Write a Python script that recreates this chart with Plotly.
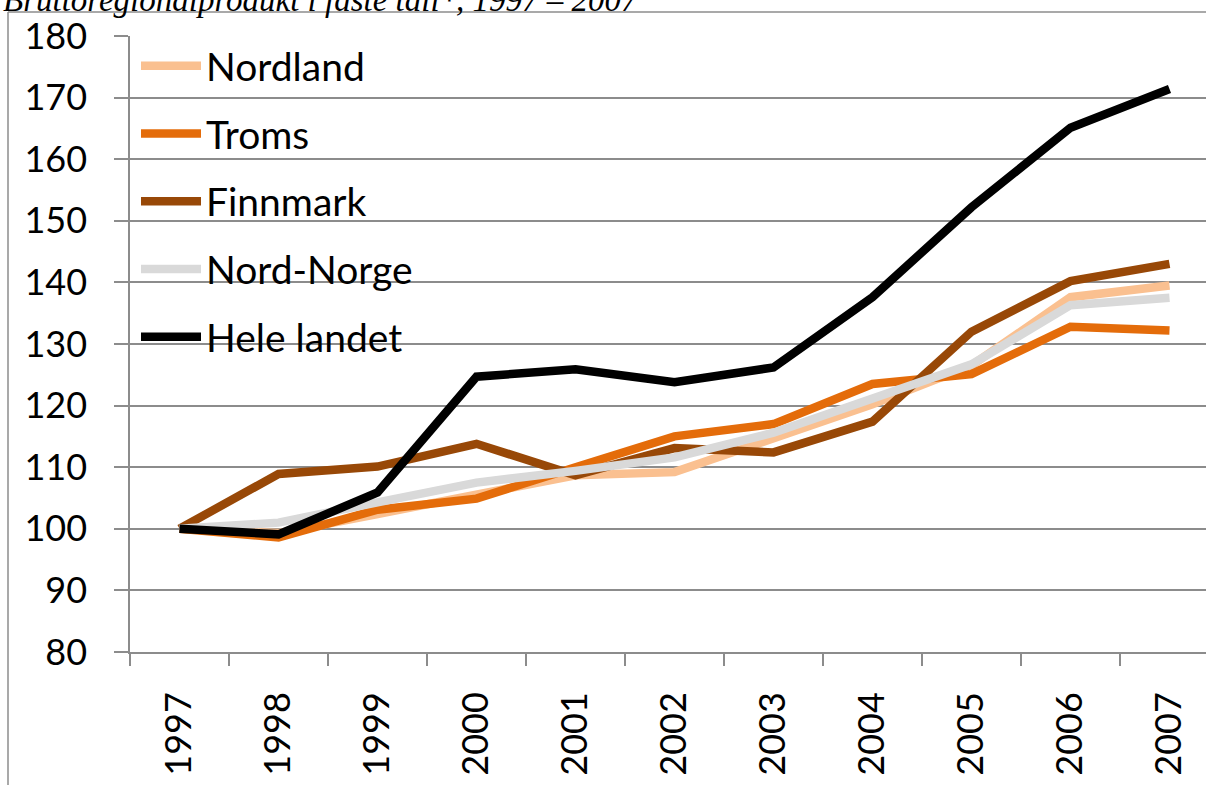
import plotly.graph_objects as go

years = ["1997", "1998", "1999", "2000", "2001", "2002", "2003", "2004", "2005", "2006", "2007"]
nordland = [100, 99.3, 102.4, 105.4, 108.7, 109.2, 114.7, 120.2, 126.5, 137.6, 139.5]
troms = [100, 98.6, 103.1, 104.9, 110.0, 115.0, 117.0, 123.5, 125.1, 132.8, 132.2]
finnmark = [100, 108.9, 110.1, 113.8, 108.7, 113.1, 112.4, 117.4, 132.0, 140.2, 143.0]
nord_norge = [100, 101.0, 104.3, 107.5, 109.4, 111.6, 115.6, 121.1, 126.7, 136.3, 137.5]
hele_landet = [100, 99.1, 105.9, 124.7, 125.9, 123.8, 126.2, 137.6, 152.2, 165.1, 171.4]

series_names = ["Nordland", "Troms", "Finnmark", "Nord-Norge", "Hele landet"]
series_values = [nordland, troms, finnmark, nord_norge, hele_landet]
colors = ["#FAC090", "#E46C0A", "#984807", "#D9D9D9", "#000000"]
yticks = [80, 90, 100, 110, 120, 130, 140, 150, 160, 170, 180]
title_text = "Bruttoregionalprodukt i faste tall*, 1997 – 2007"

W, H = 1206, 785
L, R, T, B = 130, 0, 36, 785 - 652
FONT = "Lato"

fig = go.Figure()
for name, vals, col in zip(series_names, series_values, colors):
    fig.add_trace(go.Scatter(
        x=years, y=vals, name=name, mode="lines",
        line=dict(color=col, width=8.5),
        legendgroup=name,
    ))

grid_col = "#8C8C8C"
pw = W - L - R
ph = H - T - B
def px_x(x):
    return (x - L) / pw
def px_y(y):
    return (H - B - y) / ph

fig.update_layout(
    width=W, height=H,
    margin=dict(l=L, r=R, t=T, b=B, pad=0),
    paper_bgcolor="white", plot_bgcolor="white",
    font=dict(family=FONT, color="black", size=36),
    showlegend=True,
    legend=dict(
        x=px_x(136), y=px_y(34),
        xanchor="left", yanchor="top",
        font=dict(family=FONT, size=39, color="black"),
        bgcolor="rgba(0,0,0,0)", itemwidth=60, tracegroupgap=14,
    ),
    xaxis=dict(
        type="category", range=[-0.5, -0.5 + pw / 99.0],
        tickson="boundaries", ticks="outside", ticklen=12, tickwidth=1.5, tickcolor=grid_col,
        showline=True, linecolor=grid_col, linewidth=1.5,
        showgrid=False, tickangle=-90, ticklabelstandoff=24,
        tickfont=dict(family=FONT, size=36, color="black"),
    ),
    yaxis=dict(
        range=[80, 180], tickvals=yticks, ticktext=[str(v) for v in yticks],
        ticks="outside", ticklen=14, tickwidth=1.5, tickcolor=grid_col,
        showline=True, linecolor=grid_col, linewidth=1.5,
        showgrid=True, gridcolor=grid_col, gridwidth=1.5, zeroline=False,
        ticklabelstandoff=20,
        tickfont=dict(family=FONT, size=36, color="black"),
    ),
)

# chart frame (left and top edges visible)
fig.add_shape(type="line", xref="paper", yref="paper",
              x0=px_x(8), x1=px_x(8), y0=px_y(12), y1=px_y(H + 5),
              line=dict(color=grid_col, width=1.5))
fig.add_shape(type="line", xref="paper", yref="paper",
              x0=px_x(8), x1=px_x(W + 5), y0=px_y(12), y1=px_y(12),
              line=dict(color=grid_col, width=1.5))

fig.add_annotation(text="<i>" + title_text + "</i>", xref="paper", yref="paper",
                   x=px_x(1), y=px_y(19.5), xanchor="left", yanchor="bottom",
                   showarrow=False, font=dict(family="Liberation Serif", size=33, color="black"))

fig.write_html("out.html", post_script="document.body.style.margin='0';",
               config={"displayModeBar": False})
